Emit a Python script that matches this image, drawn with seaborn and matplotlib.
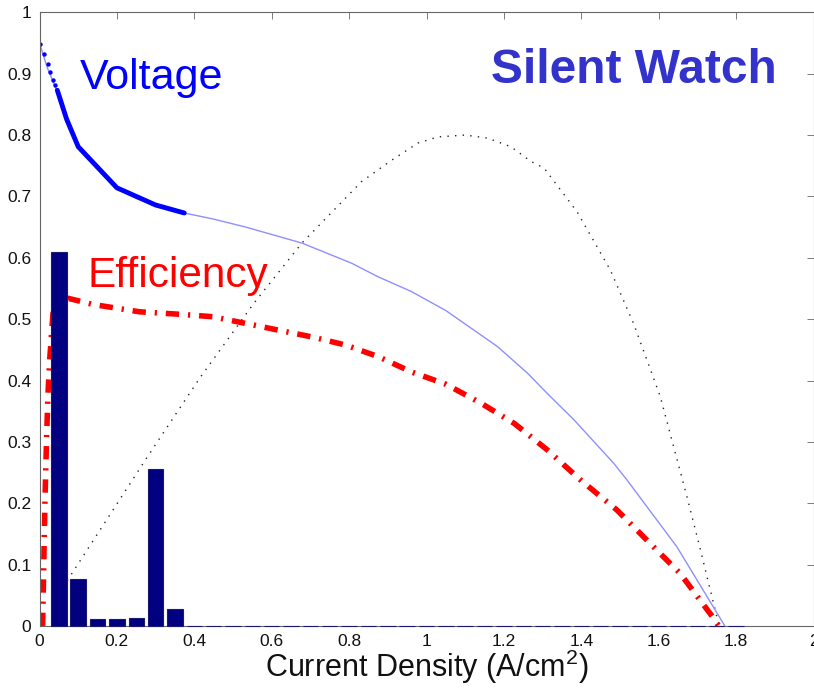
import matplotlib
matplotlib.use("Agg")
import matplotlib.pyplot as plt
import seaborn as sns

# ---------------- data ----------------
bar_x = [0.05, 0.10, 0.15, 0.20, 0.25, 0.30, 0.35, 0.40, 0.45, 0.50, 0.55, 0.60,
         0.65, 0.70, 0.75, 0.80, 0.85, 0.90, 0.95, 1.00, 1.05, 1.10, 1.15, 1.20,
         1.25, 1.30, 1.35, 1.40, 1.45, 1.50, 1.55, 1.60, 1.65, 1.70, 1.75, 1.80]
bar_h = [0.610, 0.076, 0.012, 0.012, 0.013, 0.256, 0.027, 0, 0, 0, 0, 0,
         0, 0, 0, 0, 0, 0, 0, 0, 0, 0, 0, 0,
         0, 0, 0, 0, 0, 0, 0, 0, 0, 0, 0, 0]

volt_x = [0.0, 0.02, 0.044, 0.07, 0.098, 0.15, 0.203, 0.25, 0.301, 0.374, 0.45, 0.533,
          0.678, 0.807, 0.875, 0.961, 1.05, 1.141, 1.184, 1.261, 1.312, 1.381, 1.484,
          1.518, 1.647, 1.771]
volt_y = [0.95, 0.91, 0.873, 0.824, 0.781, 0.745, 0.713, 0.697, 0.686, 0.673, 0.663, 0.650,
          0.624, 0.591, 0.569, 0.545, 0.514, 0.474, 0.455, 0.412, 0.379, 0.336, 0.265,
          0.238, 0.129, 0.0]

volt_op_x = [0.046, 0.07, 0.10, 0.20, 0.30, 0.374]
volt_op_y = [0.873, 0.826, 0.781, 0.714, 0.686, 0.673]
volt_dot_x = [0.001, 0.012, 0.021, 0.028, 0.035, 0.040]
volt_dot_y = [0.949, 0.932, 0.916, 0.903, 0.890, 0.882]

eff_x = [0.008, 0.011, 0.014, 0.018, 0.022, 0.027, 0.035, 0.074, 0.138, 0.258, 0.361,
         0.447, 0.533, 0.618, 0.704, 0.790, 0.875, 0.961, 1.05, 1.141, 1.227, 1.312,
         1.398, 1.492, 1.552, 1.604, 1.655, 1.745, 1.755]
eff_y = [0.0, 0.10, 0.20, 0.30, 0.38, 0.44, 0.51, 0.534, 0.524, 0.512, 0.508,
         0.504, 0.493, 0.482, 0.471, 0.458, 0.439, 0.414, 0.394, 0.363, 0.330, 0.287,
         0.238, 0.189, 0.151, 0.118, 0.086, 0.010, 0.0]

pow_x = [0.05, 0.078, 0.276, 0.413, 0.554, 0.678, 0.832, 0.91, 0.978, 1.03, 1.10,
         1.158, 1.218, 1.27, 1.304, 1.389, 1.475, 1.535, 1.604, 1.672, 1.706, 1.751, 1.757]
pow_y = [0.053, 0.080, 0.273, 0.403, 0.526, 0.624, 0.724, 0.759, 0.787, 0.797, 0.800,
         0.795, 0.781, 0.757, 0.746, 0.675, 0.580, 0.493, 0.374, 0.213, 0.129, 0.013, 0.0]

x_ticks = [0, 0.2, 0.4, 0.6, 0.8, 1, 1.2, 1.4, 1.6, 1.8, 2]
y_ticks = [0, 0.1, 0.2, 0.3, 0.4, 0.5, 0.6, 0.7, 0.8, 0.9, 1]
x_label = "Current Density (A/cm$^{2}$)"

# ---------------- style ----------------
sns.set_style("white")
plt.rcParams["font.family"] = ["Liberation Sans", "DejaVu Sans"]
plt.rcParams["mathtext.fontset"] = "custom"
plt.rcParams["mathtext.rm"] = "Liberation Sans"
plt.rcParams["mathtext.it"] = "Liberation Sans"

fig = plt.figure(figsize=(8.14, 6.88), dpi=100)
ax = fig.add_axes([39.5 / 814, 62 / 688, 774 / 814, 613.7 / 688])

# lines (drawn beneath the bars)
sns.lineplot(x=pow_x, y=pow_y, ax=ax, color="#222222", lw=1.0,
             linestyle=(0, (1, 4.5)), estimator=None, sort=False, zorder=1)
sns.lineplot(x=eff_x, y=eff_y, ax=ax, color="#ff0000", lw=4.0,
             linestyle=(0, (2.4, 1.6, 0.4, 1.6)), estimator=None, sort=False, zorder=1)
sns.lineplot(x=volt_x, y=volt_y, ax=ax, color="#8f8fff", lw=1.0,
             estimator=None, sort=False, zorder=1)
sns.lineplot(x=volt_op_x, y=volt_op_y, ax=ax, color="#0000ff", lw=3.5,
             estimator=None, sort=False, zorder=2, solid_capstyle="round")
sns.scatterplot(x=volt_dot_x, y=volt_dot_y, ax=ax, color="#0000ff", s=10,
                linewidth=0, zorder=2)

# bars
sns.barplot(x=bar_x, y=bar_h, ax=ax, native_scale=True, width=0.8,
            color="#000080", saturation=1, errorbar=None,
            edgecolor="#1a1a70", linewidth=0.8, zorder=3)
for p in ax.patches:
    p.set_zorder(3)
    p.set_clip_on(False)

# axes formatting
ax.set_xlim(0, 1.99)
ax.set_ylim(0, 1)
ax.set_xticks(x_ticks)
ax.set_xticklabels([f"{t:g}" for t in x_ticks])
ax.set_yticks(y_ticks)
ax.set_yticklabels([f"{t:g}" for t in y_ticks])
ax.tick_params(direction="in", top=True, right=True, length=5, width=0.6,
               color="#666666", labelcolor="#111111", labelsize=12.5, pad=6)
for sp in ax.spines.values():
    sp.set_color("#666666")
    sp.set_linewidth(0.8)
    sp.set_zorder(2)
ax.set_xlabel(x_label, fontsize=22, labelpad=-1, color="#111111")
ax.set_ylabel("")

# annotations
ax.text(0.104, 0.875, "Voltage", color="#0000ff", fontsize=31, va="baseline", ha="left")
ax.text(0.125, 0.553, "Efficiency", color="#ff0000", fontsize=30.5, va="baseline", ha="left")
ax.text(1.166, 0.885, "Silent Watch", color="#3333cc", fontsize=34.5, fontweight="bold",
        va="baseline", ha="left")

fig.savefig("out.png", dpi=100)
